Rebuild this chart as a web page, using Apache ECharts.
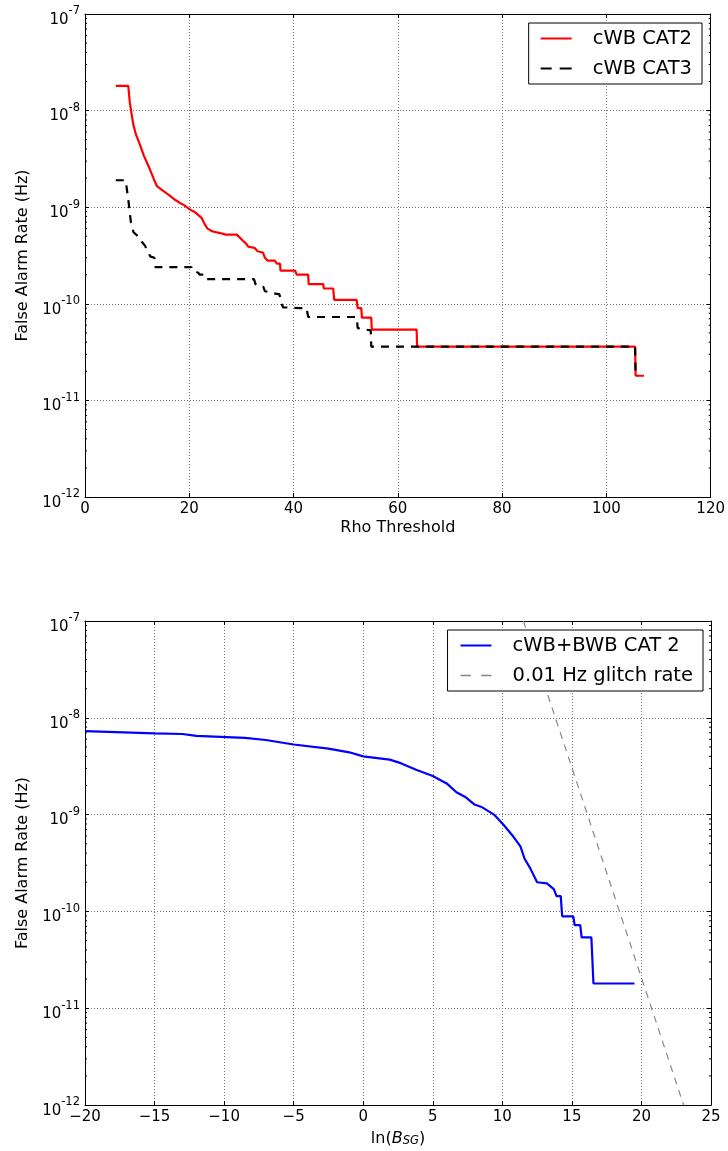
<!DOCTYPE html>
<html>
<head>
<meta charset="utf-8">
<script src="https://cdn.jsdelivr.net/npm/echarts@6/dist/echarts.min.js"></script>
<style>
  html, body { margin: 0; padding: 0; background: #fff; }
  #chart { width: 728px; height: 1151px; }
</style>
</head>
<body>
<div id="chart"></div>
<script>
// ---- Upper panel: cWB false alarm rate vs. rho threshold ----
const cat2Rho = [5.9, 8.3, 8.6, 8.9, 9.3, 9.8, 10.5, 11.3, 12.0, 12.6, 13.2, 13.8, 14.8, 16.0, 17.2, 18.3, 19.0, 20.1, 21.2, 22.4, 23.0, 23.5, 24.5, 25.9, 27.0, 29.1, 29.6, 30.3, 30.9, 31.3, 32.5, 33.1, 34.1, 34.5, 35.0, 36.4, 36.8, 37.4, 37.5, 40.3, 40.6, 42.8, 42.9, 45.7, 45.8, 47.6, 47.8, 52.1, 52.3, 53.0, 53.1, 54.9, 55.0, 63.6, 63.7, 105.5, 105.6, 107.2];
const cat2Far = [1.8e-8, 1.8e-8, 1.2e-8, 9.5e-9, 7.0e-9, 5.6e-9, 4.5e-9, 3.4e-9, 2.8e-9, 2.35e-9, 1.95e-9, 1.65e-9, 1.5e-9, 1.35e-9, 1.2e-9, 1.1e-9, 1.05e-9, 9.5e-10, 8.8e-10, 7.7e-10, 6.6e-10, 6.0e-10, 5.6e-10, 5.4e-10, 5.2e-10, 5.2e-10, 4.9e-10, 4.5e-10, 4.2e-10, 3.9e-10, 3.8e-10, 3.5e-10, 3.4e-10, 3.0e-10, 2.8e-10, 2.8e-10, 2.6e-10, 2.6e-10, 2.2e-10, 2.2e-10, 2.0e-10, 2.0e-10, 1.6e-10, 1.6e-10, 1.44e-10, 1.44e-10, 1.1e-10, 1.1e-10, 9.0e-11, 9.0e-11, 7.2e-11, 7.2e-11, 5.4e-11, 5.4e-11, 3.6e-11, 3.6e-11, 1.8e-11, 1.8e-11];

const cat3Rho = [5.9, 7.8, 8.3, 8.8, 9.3, 10.2, 10.7, 11.5, 12.0, 12.5, 13.3, 13.5, 20.4, 20.6, 21.7, 22.0, 22.8, 23.1, 32.4, 32.7, 33.4, 34.2, 34.5, 35.8, 37.3, 37.7, 38.0, 41.3, 42.5, 42.8, 52.1, 52.3, 54.8, 54.9, 105.5, 105.6, 106.0];
const cat3Far = [1.9e-9, 1.9e-9, 1.2e-9, 7.0e-10, 5.5e-10, 5.0e-10, 4.5e-10, 4.0e-10, 3.5e-10, 3.1e-10, 3.0e-10, 2.4e-10, 2.4e-10, 2.2e-10, 2.1e-10, 2.0e-10, 2.0e-10, 1.8e-10, 1.8e-10, 1.6e-10, 1.5e-10, 1.5e-10, 1.35e-10, 1.3e-10, 1.25e-10, 1.0e-10, 9.2e-11, 9.0e-11, 9.0e-11, 7.3e-11, 7.3e-11, 5.6e-11, 5.3e-11, 3.6e-11, 3.6e-11, 1.8e-11, 1.8e-11];

// ---- Lower panel: cWB+BWB false alarm rate vs. ln(B_SG) ----
const bwbLnB = [-20, -15, -13, -12, -8.5, -7, -5, -2.5, -1, 0, 1.9, 2.7, 3.8, 5.0, 6.0, 6.7, 7.4, 8.0, 8.5, 9.4, 10.1, 10.8, 11.3, 11.6, 12.0, 12.5, 13.2, 13.7, 13.9, 14.2, 14.3, 15.1, 15.2, 15.6, 15.7, 16.4, 16.55, 19.5];
const bwbFar = [7.3e-9, 6.9e-9, 6.8e-9, 6.5e-9, 6.2e-9, 5.9e-9, 5.3e-9, 4.8e-9, 4.4e-9, 4.0e-9, 3.7e-9, 3.4e-9, 2.9e-9, 2.5e-9, 2.1e-9, 1.7e-9, 1.5e-9, 1.27e-9, 1.2e-9, 1.0e-9, 7.8e-10, 5.9e-10, 4.7e-10, 3.5e-10, 2.8e-10, 2.0e-10, 1.95e-10, 1.7e-10, 1.44e-10, 1.44e-10, 8.9e-11, 8.9e-11, 7.2e-11, 7.2e-11, 5.4e-11, 5.4e-11, 1.8e-11, 1.8e-11];

// 0.01 Hz glitch rate reference line (straight on the log axis)
const glitchLnB = [11.51, 23.03];
const glitchFar = [1.0e-7, 1.0e-12];

// Axis tick settings
const rhoTicks = { min: 0, max: 120, interval: 20 };
const lnBTicks = { min: -20, max: 25, interval: 5 };
const farRange = { min: 1e-12, max: 1e-7 };

const FONT = 'DejaVu Sans';
const zip = (xs, ys) => xs.map((x, i) => [x, ys[i]]);

// minor tick values (2..9 × each decade) for the log axes
const minorVals = [];
for (let e = -12; e < -7; e++) {
  for (let m = 2; m <= 9; m++) minorVals.push(m * Math.pow(10, e));
}

// legend glyphs: plain line segments, solid or dashed
const ICON_SOLID = 'path://M0,0H31V2H0Z';
const ICON_DASH = 'path://M0,0H11V2H0ZM19,0H31V2H19Z';
const ICON_DASH_THIN = 'path://M0,0H9V1.2H0ZM18,0H27V1.2H18Z';

const chart = echarts.init(document.getElementById('chart'), null, { renderer: 'canvas' });

function powLabel(v) {
  const e = Math.round(Math.log10(v));
  return '{b|10}{s|' + e + '}';
}
const powRich = {
  b: { fontSize: 15, fontFamily: FONT, color: '#000', lineHeight: 22, verticalAlign: 'bottom' },
  s: { fontSize: 11.5, fontFamily: FONT, color: '#000', lineHeight: 12, verticalAlign: 'top' }
};
const minusFmt = v => String(v).replace('-', '\u2212');

function xAxes(gridIndex, ticks, name, nameRich, nameGap) {
  return [
    {
      type: 'value', gridIndex, position: 'bottom',
      min: ticks.min, max: ticks.max, interval: ticks.interval,
      name, nameLocation: 'middle', nameGap,
      nameTextStyle: nameRich ? { rich: nameRich } : { fontSize: 16, fontFamily: FONT, color: '#000' },
      axisLine: { show: true, onZero: false, lineStyle: { color: '#000', width: 1 } },
      axisTick: { show: true, inside: true, length: 4, lineStyle: { color: '#000' } },
      axisLabel: { fontSize: 15, fontFamily: FONT, color: '#000', margin: 5, formatter: minusFmt },
      splitLine: { show: true, lineStyle: { color: '#777', width: 1, type: [1, 2] } }
    },
    {
      type: 'value', gridIndex, position: 'top',
      min: ticks.min, max: ticks.max, interval: ticks.interval,
      axisLine: { show: true, onZero: false, lineStyle: { color: '#000', width: 1 } },
      axisTick: { show: true, inside: true, length: 4, lineStyle: { color: '#000' } },
      axisLabel: { show: false },
      splitLine: { show: false }
    }
  ];
}

function yAxes(gridIndex) {
  return [
    {
      type: 'log', logBase: 10, gridIndex, position: 'left',
      min: farRange.min, max: farRange.max,
      name: 'False Alarm Rate (Hz)', nameLocation: 'middle', nameGap: 54,
      nameTextStyle: { fontSize: 16, fontFamily: FONT, color: '#000' },
      axisLine: { show: true, onZero: false, lineStyle: { color: '#000', width: 1 } },
      axisTick: { show: true, inside: true, length: 4, lineStyle: { color: '#000' } },
      axisLabel: { margin: 5, formatter: powLabel, rich: powRich, padding: [5, 0, 0, 0] },
      splitLine: { show: true, lineStyle: { color: '#777', width: 1, type: [1, 2] } }
    },
    {
      type: 'log', logBase: 10, gridIndex, position: 'right',
      min: farRange.min, max: farRange.max,
      axisLine: { show: true, onZero: false, lineStyle: { color: '#000', width: 1 } },
      axisTick: { show: true, inside: true, length: 4, lineStyle: { color: '#000' } },
      axisLabel: { show: false },
      splitLine: { show: false }
    }
  ];
}

// short inward ticks on both vertical spines at the minor log positions
function minorTickSeries(xIndex, yIndex, xMin, xMax) {
  return {
    type: 'custom', xAxisIndex: xIndex, yAxisIndex: yIndex, silent: true, clip: false,
    data: minorVals.map(v => [xMin, v]),
    renderItem(params, api) {
      const v = api.value(1);
      const pl = api.coord([xMin, v]);
      const pr = api.coord([xMax, v]);
      return {
        type: 'group',
        children: [
          { type: 'line', shape: { x1: pl[0], y1: pl[1], x2: pl[0] + 2, y2: pl[1] }, style: { stroke: '#000', lineWidth: 1 } },
          { type: 'line', shape: { x1: pr[0], y1: pr[1], x2: pr[0] - 2, y2: pr[1] }, style: { stroke: '#000', lineWidth: 1 } }
        ]
      };
    }
  };
}

const legendText = { fontSize: 19.5, fontFamily: FONT, color: '#000', padding: [0, 0, 0, 16], lineHeight: 21 };
const legendBox = {
  orient: 'vertical', backgroundColor: '#fff', borderColor: '#000', borderWidth: 1, borderRadius: 0,
  itemGap: 9, itemWidth: 31, itemHeight: 2, textStyle: legendText
};

const option = {
  backgroundColor: '#fff',
  animation: false,
  grid: [
    { left: 85, right: 17, top: 14, bottom: 654, containLabel: false },
    { left: 85, right: 17, top: 621, bottom: 46, containLabel: false }
  ],
  xAxis: [
    ...xAxes(0, rhoTicks, 'Rho Threshold', null, 23),
    ...xAxes(1, lnBTicks, '{t|ln(}{i|B}{u|SG}{t|)}', {
      t: { fontSize: 16, fontFamily: FONT, color: '#000', lineHeight: 20, verticalAlign: 'bottom' },
      i: { fontSize: 16, fontFamily: FONT, fontStyle: 'italic', color: '#000', lineHeight: 20, verticalAlign: 'bottom' },
      u: { fontSize: 11.5, fontFamily: FONT, fontStyle: 'italic', color: '#000', lineHeight: 10, verticalAlign: 'bottom' }
    }, 22)
  ],
  yAxis: [...yAxes(0), ...yAxes(1)],
  legend: [
    Object.assign({}, legendBox, {
      data: [{ name: 'cWB CAT2', icon: ICON_SOLID }, { name: 'cWB CAT3', icon: ICON_DASH }],
      right: 26, top: 23, padding: [5, 10, 5, 12]
    }),
    Object.assign({}, legendBox, {
      data: [{ name: 'cWB+BWB CAT 2', icon: ICON_SOLID }, { name: '0.01 Hz glitch rate', icon: ICON_DASH_THIN }],
      right: 25, top: 630, padding: [5, 10, 5, 13]
    })
  ],
  series: [
    minorTickSeries(0, 0, rhoTicks.min, rhoTicks.max),
    minorTickSeries(2, 2, lnBTicks.min, lnBTicks.max),
    {
      name: 'cWB CAT2', type: 'line', xAxisIndex: 0, yAxisIndex: 0,
      data: zip(cat2Rho, cat2Far), showSymbol: false, symbol: 'none',
      lineStyle: { color: '#ff0000', width: 2.2 }, itemStyle: { color: '#ff0000' }
    },
    {
      name: 'cWB CAT3', type: 'line', xAxisIndex: 0, yAxisIndex: 0,
      data: zip(cat3Rho, cat3Far), showSymbol: false, symbol: 'none',
      lineStyle: { color: '#000', width: 2.2, type: [8, 7] }, itemStyle: { color: '#000' }
    },
    {
      name: 'cWB+BWB CAT 2', type: 'line', xAxisIndex: 2, yAxisIndex: 2,
      data: zip(bwbLnB, bwbFar), showSymbol: false, symbol: 'none',
      lineStyle: { color: '#0000ff', width: 2.2 }, itemStyle: { color: '#0000ff' }
    },
    {
      name: '0.01 Hz glitch rate', type: 'line', xAxisIndex: 2, yAxisIndex: 2,
      data: zip(glitchLnB, glitchFar), showSymbol: false, symbol: 'none',
      lineStyle: { color: '#888', width: 1.2, type: [7, 6] }, itemStyle: { color: '#888' }
    }
  ]
};

chart.setOption(option);
</script>
</body>
</html>
